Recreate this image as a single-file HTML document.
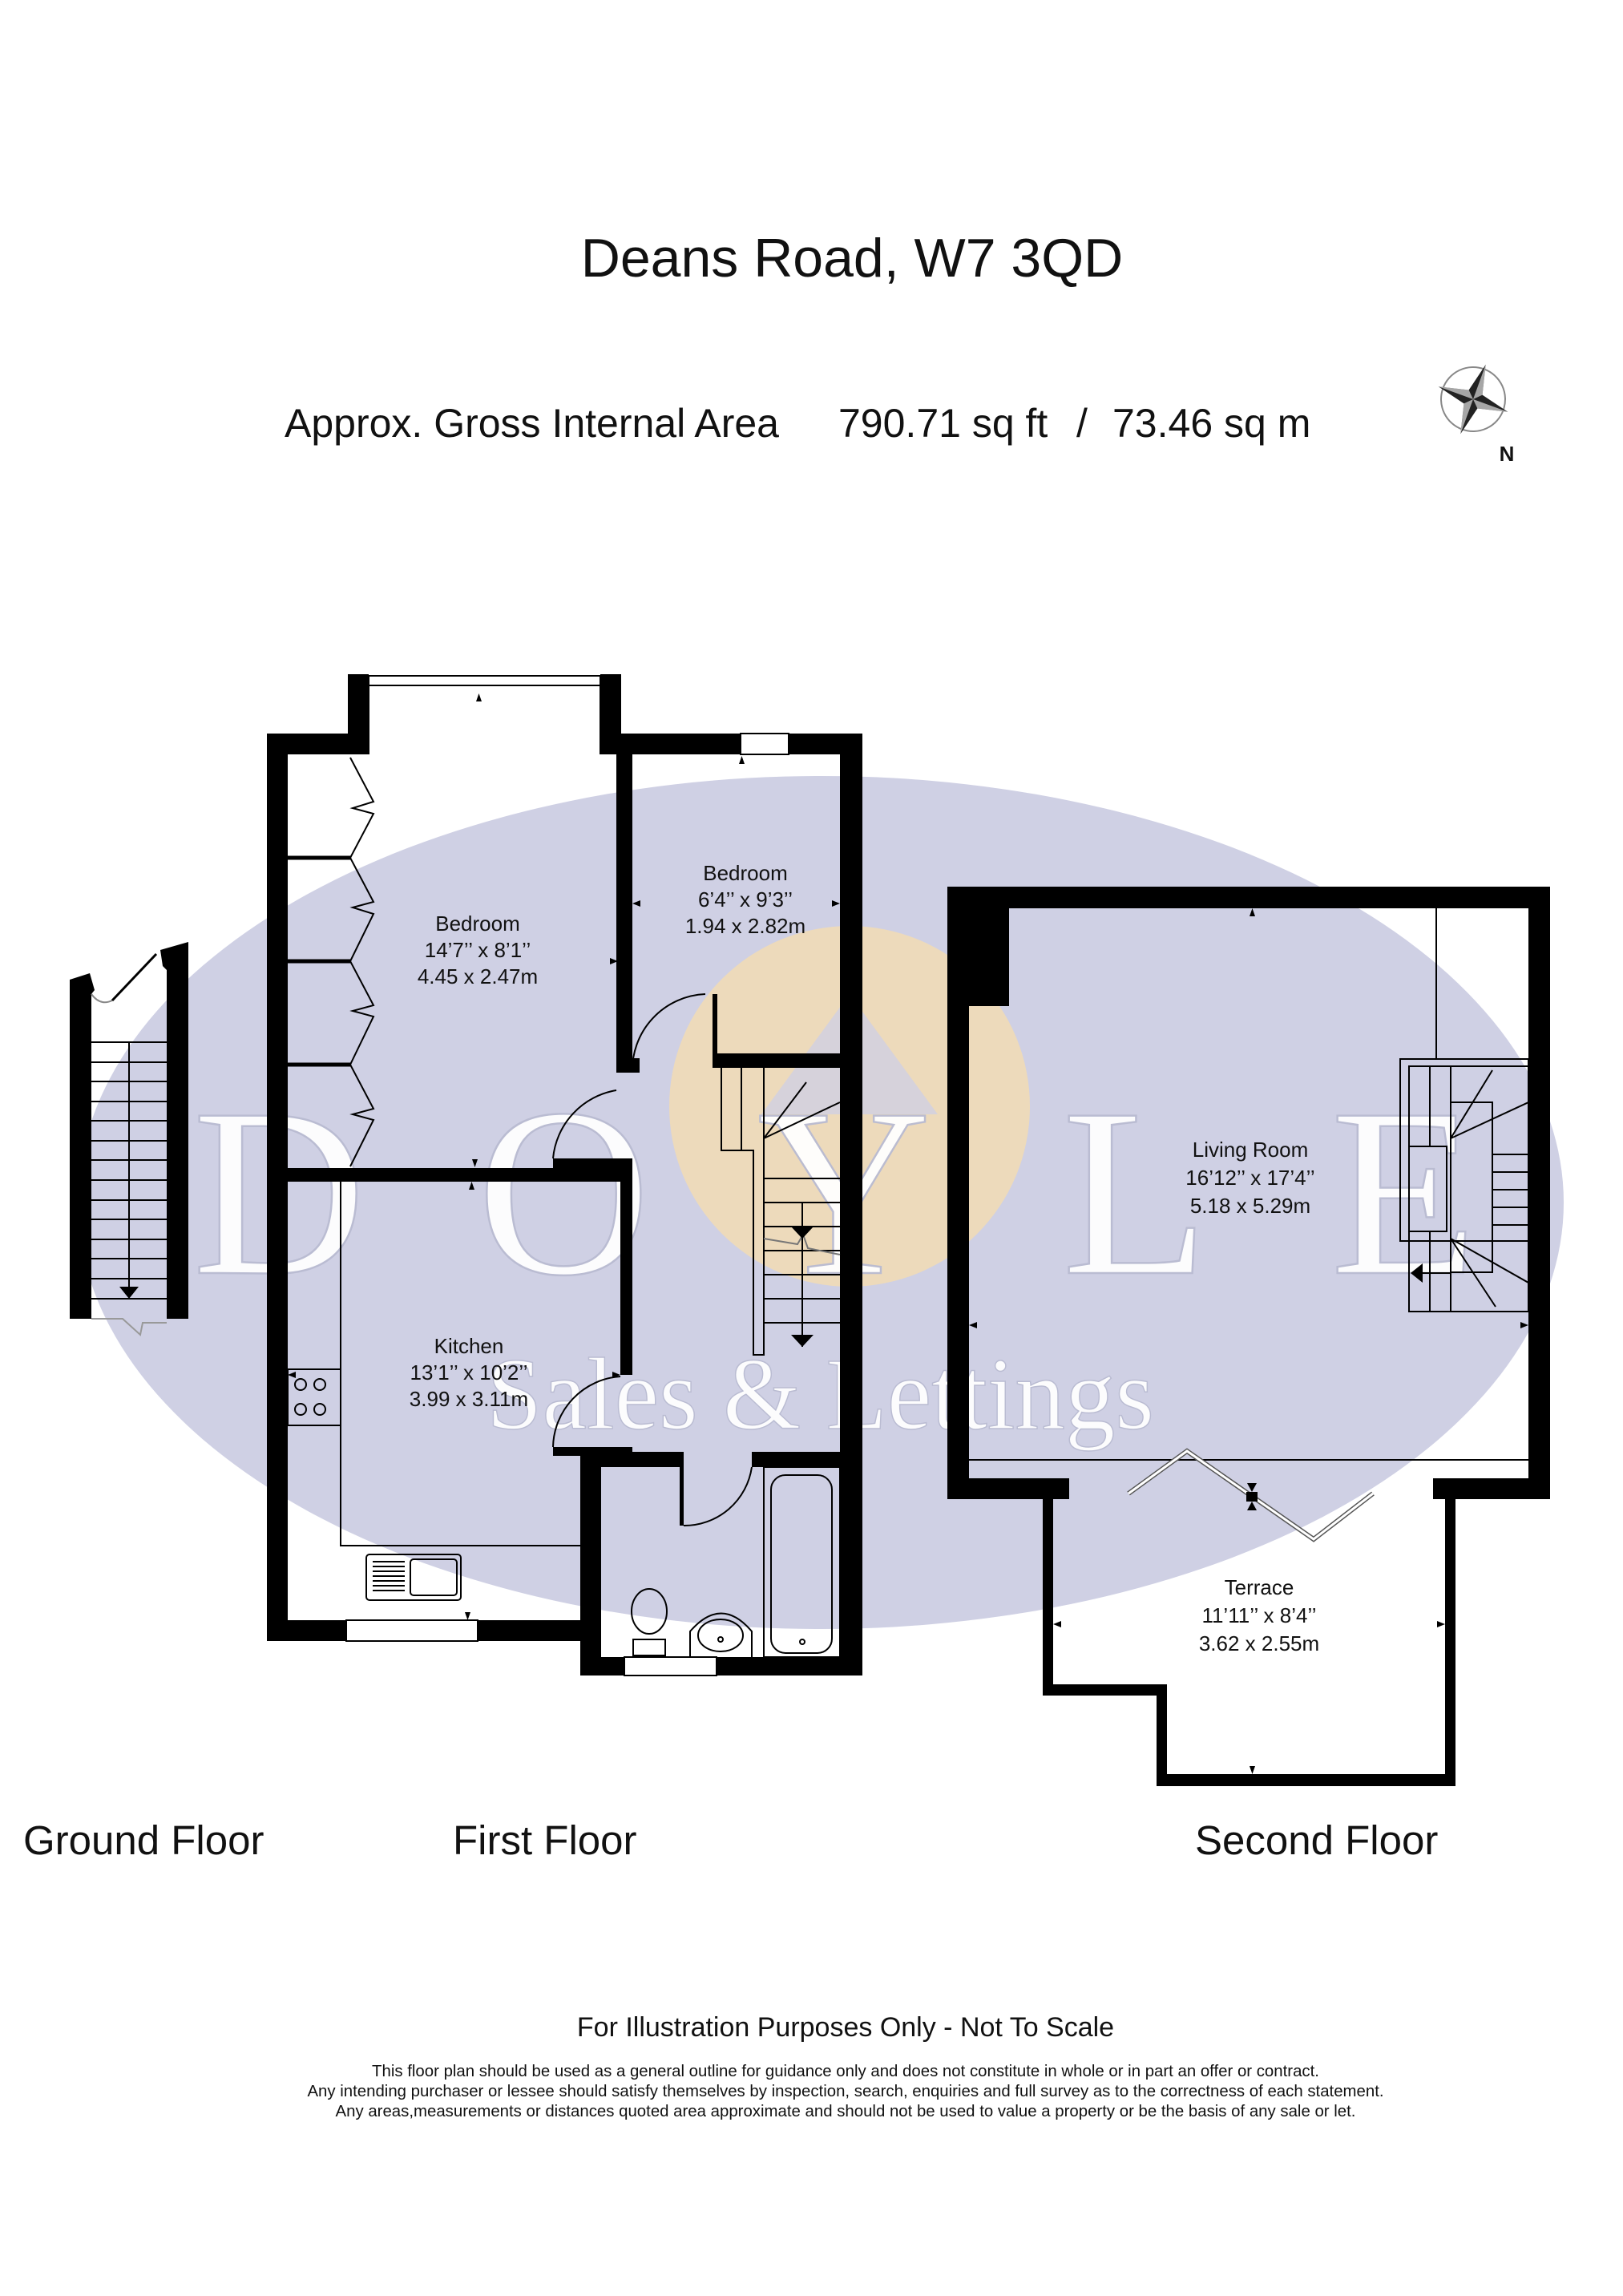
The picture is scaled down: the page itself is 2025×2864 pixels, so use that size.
<!DOCTYPE html>
<html><head><meta charset="utf-8"><style>
html,body{margin:0;padding:0;background:#fff;}
svg{display:block;}
</style></head><body>
<svg width="2025" height="2864" viewBox="0 0 2025 2864" xmlns="http://www.w3.org/2000/svg" font-family="Liberation Sans, Arial, sans-serif">
<rect width="2025" height="2864" fill="#fff"/>
<!-- watermark -->
<ellipse cx="1024" cy="1500" rx="927" ry="532" fill="#cfd0e4"/>
<circle cx="1060" cy="1380" r="225" fill="#f2dcb4" opacity="0.85"/>
<path d="M950 1390 L1060 1240 L1170 1390 Z" fill="#cfd0e4" opacity="0.8"/>
<g style="font-family:'Liberation Serif',serif" fill="#fff" stroke="#b9bbd2" stroke-width="2.5" opacity="0.95">
<text x="240" y="1588" font-size="300">D</text>
<text x="595" y="1588" font-size="300">O</text>
<text x="945" y="1588" font-size="300">Y</text>
<text x="1325" y="1588" font-size="300">L</text>
<text x="1660" y="1588" font-size="300">E</text>
<text x="607" y="1782" font-size="128" textLength="833" lengthAdjust="spacingAndGlyphs" stroke-width="1.5">Sales &amp; Lettings</text>
</g>

<!-- header -->
<text x="1063" y="345" font-size="68" text-anchor="middle" fill="#111">Deans Road, W7 3QD</text>
<text x="355" y="545" font-size="50" fill="#111">Approx. Gross Internal Area</text>
<text x="1046" y="545" font-size="50" fill="#111">790.71 sq ft</text>
<text x="1343" y="545" font-size="50" fill="#111">/</text>
<text x="1388" y="545" font-size="50" fill="#111">73.46 sq m</text>
<!-- compass -->
<g transform="translate(1838,498) rotate(20)">
<circle r="40" fill="none" stroke="#888" stroke-width="2"/>
<path d="M0 -46 L9 -9 L46 0 L9 9 L0 46 L-9 9 L-46 0 L-9 -9 Z" fill="#222"/>
<path d="M0 -46 L9 -9 L0 0 Z M46 0 L9 9 L0 0 Z M0 46 L-9 9 L0 0 Z M-46 0 L-9 -9 L0 0Z" fill="#fff" opacity="0.6"/>
</g>
<text x="1880" y="575" font-size="26" font-weight="bold" text-anchor="middle" fill="#111">N</text>

<!-- GROUND FLOOR stair -->
<g fill="#000">
<polygon points="87,1222 112,1214 118,1235 114,1240 114,1645 87,1645"/>
<polygon points="200,1185 235,1175 235,1645 208,1645 208,1210 203,1205"/>
</g>
<g stroke="#000" stroke-width="2" fill="none">
<path d="M114 1240 Q125 1255 140 1248" stroke="#888"/>
<path d="M140 1248 L195 1190" stroke-width="3"/>
<line x1="161" y1="1300" x2="161" y2="1615"/>
<path d="M114 1300 H208 M114 1325 H208 M114 1349 H208 M114 1374 H208 M114 1398 H208 M114 1423 H208 M114 1447 H208 M114 1472 H208 M114 1497 H208 M114 1521 H208 M114 1546 H208 M114 1570 H208 M114 1595 H208 M114 1620 H208"/>
<path d="M114 1645 H153 L175 1665 L178 1650 H208" stroke="#999"/>
</g>
<polygon points="149,1605 173,1605 161,1620" fill="#000"/>

<!-- FIRST FLOOR -->
<g fill="#000">
<rect x="434" y="841" width="26" height="100"/>
<rect x="749" y="841" width="26" height="74"/>
<rect x="333" y="915" width="128" height="26"/>
<rect x="749" y="915" width="40" height="26"/>
<rect x="769" y="915" width="307" height="26"/>
<rect x="333" y="915" width="26" height="1132"/>
<rect x="1048" y="915" width="28" height="1175"/>
<rect x="769" y="915" width="20" height="423"/>
<rect x="789" y="1320" width="9" height="18"/>
<rect x="359" y="1457" width="430" height="17"/>
<rect x="690" y="1445" width="99" height="29"/>
<rect x="774" y="1474" width="15" height="241"/>
<rect x="690" y="1805" width="99" height="11"/>
<rect x="889" y="1240" width="6" height="92"/>
<rect x="889" y="1314" width="159" height="18"/>
<rect x="333" y="2021" width="405" height="26"/>
<rect x="724" y="1811" width="26" height="279"/>
<rect x="724" y="1811" width="129" height="19"/>
<rect x="938" y="1811" width="110" height="19"/>
<rect x="848" y="1830" width="5" height="73"/>
<rect x="724" y="2067" width="352" height="23"/>
</g>
<rect x="460" y="843" width="289" height="12" fill="#fff" stroke="#000" stroke-width="2"/>
<line x1="460" y1="843" x2="460" y2="941" stroke="#000" stroke-width="2"/>
<line x1="749" y1="843" x2="749" y2="941" stroke="#000" stroke-width="2"/>
<rect x="924" y="915" width="60" height="26" fill="#fff" stroke="#000" stroke-width="2"/>
<rect x="432" y="2021" width="164" height="26" fill="#fff" stroke="#000" stroke-width="2"/>
<rect x="779" y="2067" width="115" height="23" fill="#fff" stroke="#000" stroke-width="2"/>
<g stroke="#000" stroke-width="2" fill="none">
<path d="M357 1070 H437 M357 1199 H437 M357 1328 H437" stroke-width="5"/>
<path d="M437 945 L466 1000 L440 1008 L466 1015 L437 1070 L466 1125 L440 1132 L466 1140 L437 1199 L466 1254 L440 1261 L466 1268 L437 1328 L466 1383 L440 1390 L466 1397 L437 1455"/>
<path d="M789 1338 A 95 95 0 0 1 880 1240"/>
<path d="M690 1445 A 95 95 0 0 1 769 1360"/>
<path d="M690 1805 A 90 90 0 0 1 774 1717"/>
<path d="M853 1903 A 85 85 0 0 0 938 1830"/>
<path d="M425 1474 V1928 H738"/>
<rect x="359" y="1708" width="66" height="70"/>
<circle cx="375" cy="1727" r="7"/><circle cx="399" cy="1727" r="7"/>
<circle cx="375" cy="1758" r="7"/><circle cx="399" cy="1758" r="7"/>
<rect x="457" y="1939" width="118" height="57" rx="4"/>
<rect x="512" y="1945" width="58" height="45" rx="4"/>
<path d="M465 1948 H505 M465 1954 H505 M465 1960 H505 M465 1966 H505 M465 1972 H505 M465 1978 H505 M465 1984 H505"/>
<rect x="953" y="1830" width="95" height="237"/>
<rect x="962" y="1840" width="76" height="222" rx="18"/>
<circle cx="1001" cy="2048" r="3"/>
<ellipse cx="810" cy="2010" rx="22" ry="28"/>
<rect x="790" y="2045" width="40" height="20"/>
<path d="M861 2067 V2035 Q900 1990 938 2035 V2067"/>
<ellipse cx="899" cy="2040" rx="28" ry="20"/>
<circle cx="899" cy="2045" r="3"/>
<path d="M900 1332 V1435 H940 V1690 H953 V1435"/>
<path d="M925 1332 V1435 M953 1332 V1435 M953 1420 L1006 1350 M953 1420 L1048 1375"/>
<path d="M953 1470 H1048 M953 1500 H1048 M953 1530 H1048 M953 1560 H1048 M953 1590 H1048 M953 1620 H1048 M953 1650 H1048"/>
<line x1="1001" y1="1500" x2="1001" y2="1680"/>
<path d="M953 1545 L995 1552 L1002 1540 L1008 1557 L1048 1565" stroke="#777"/>
</g>
<g fill="#000">
<polygon points="987,1530 1015,1530 1001,1545"/>
<polygon points="987,1665 1015,1665 1001,1680"/>
</g>
<g fill="#000">
<polygon points="594,875 601,875 597.5,865"/>
<polygon points="922,953 929,953 925.5,943"/>
<polygon points="799,1131 789,1127 799,1123"/>
<polygon points="1038,1131 1048,1127 1038,1123"/>
<polygon points="761,1203 771,1199 761,1195"/>
<polygon points="589,1446 596,1446 592.5,1456"/>
<polygon points="585,1484 592,1484 588.5,1474"/>
<polygon points="922,1314 929,1314 925.5,1324"/>
<polygon points="359,1715 369,1711 369,1719"/>
<polygon points="764,1719 774,1715 764,1711"/>
<polygon points="580,2011 587,2011 583.5,2021"/>
</g>

<!-- SECOND FLOOR -->
<g fill="#000">
<rect x="1182" y="1106" width="752" height="27"/>
<rect x="1182" y="1106" width="27" height="764"/>
<rect x="1182" y="1106" width="77" height="149"/>
<rect x="1907" y="1106" width="27" height="764"/>
<rect x="1182" y="1844" width="152" height="26"/>
<rect x="1788" y="1844" width="146" height="26"/>
<rect x="1301" y="1844" width="13" height="271"/>
<rect x="1301" y="2101" width="155" height="14"/>
<rect x="1443" y="2101" width="13" height="127"/>
<rect x="1443" y="2213" width="373" height="15"/>
<rect x="1803" y="1844" width="13" height="384"/>
</g>
<g stroke="#000" stroke-width="2" fill="none">
<line x1="1209" y1="1821" x2="1907" y2="1821"/>
<line x1="1792" y1="1133" x2="1792" y2="1321"/>
<rect x="1747" y="1321" width="160" height="227"/>
<rect x="1758" y="1330" width="149" height="306"/>
<rect x="1758" y="1430" width="47" height="106"/>
<rect x="1810" y="1375" width="52" height="212"/>
<path d="M1784 1330 V1430 M1784 1536 V1636 M1810 1330 V1375 M1810 1587 V1636"/>
<path d="M1862 1440 H1907 M1862 1462 H1907 M1862 1484 H1907 M1862 1506 H1907 M1862 1528 H1907"/>
<path d="M1810 1420 L1862 1335 M1810 1420 L1907 1375 M1810 1545 L1907 1600 M1810 1545 L1866 1630"/>
<path d="M1408 1863 L1481 1810 L1639 1920 L1713 1863" stroke-width="6" stroke="#555"/>
<path d="M1408 1863 L1481 1810 L1639 1920 L1713 1863" stroke-width="3" stroke="#fff"/>
<line x1="1765" y1="1588" x2="1810" y2="1588"/>
</g>
<polygon points="1760,1588 1775,1576 1775,1600" fill="#000"/>
<g fill="#000">
<polygon points="1559,1143 1566,1143 1562.5,1133"/>
<polygon points="1209,1653 1219,1649 1219,1657"/>
<polygon points="1897,1657 1907,1653 1897,1649"/>
<rect x="1555" y="1861" width="14" height="12"/>
<polygon points="1556,1850 1568,1850 1562,1861"/>
<polygon points="1556,1884 1568,1884 1562,1873"/>
<polygon points="1314,2026 1324,2022 1324,2030"/>
<polygon points="1793,2030 1803,2026 1793,2022"/>
<polygon points="1559,2203 1566,2203 1562.5,2213"/>
</g>

<!-- room labels -->
<g font-size="26" fill="#111" text-anchor="middle">
<text x="596" y="1161">Bedroom</text>
<text x="596" y="1194">14’7’’ x 8’1’’</text>
<text x="596" y="1227">4.45 x 2.47m</text>
<text x="930" y="1098">Bedroom</text>
<text x="930" y="1131">6’4’’ x 9’3’’</text>
<text x="930" y="1164">1.94 x 2.82m</text>
<text x="585" y="1688">Kitchen</text>
<text x="585" y="1721">13’1’’ x 10’2’’</text>
<text x="585" y="1754">3.99 x 3.11m</text>
<text x="1560" y="1443">Living Room</text>
<text x="1560" y="1478">16’12’’ x 17’4’’</text>
<text x="1560" y="1513">5.18 x 5.29m</text>
<text x="1571" y="1989">Terrace</text>
<text x="1571" y="2024">11’11’’ x 8’4’’</text>
<text x="1571" y="2059">3.62 x 2.55m</text>
</g>

<!-- floor labels -->
<g font-size="51" fill="#111">
<text x="29" y="2313">Ground Floor</text>
<text x="565" y="2313">First Floor</text>
<text x="1491" y="2313">Second Floor</text>
</g>

<!-- footer -->
<text x="1055" y="2540" font-size="34" text-anchor="middle" fill="#111">For Illustration Purposes Only - Not To Scale</text>
<g font-size="20.4" fill="#111" text-anchor="middle">
<text x="1055" y="2590">This floor plan should be used as a general outline for guidance only and does not constitute in whole or in part an offer or contract.</text>
<text x="1055" y="2615">Any intending purchaser or lessee should satisfy themselves by inspection, search, enquiries and full survey as to the correctness of each statement.</text>
<text x="1055" y="2640">Any areas,measurements or distances quoted area approximate and should not be used to value a property or be the basis of any sale or let.</text>
</g>
</svg>
</body></html>
